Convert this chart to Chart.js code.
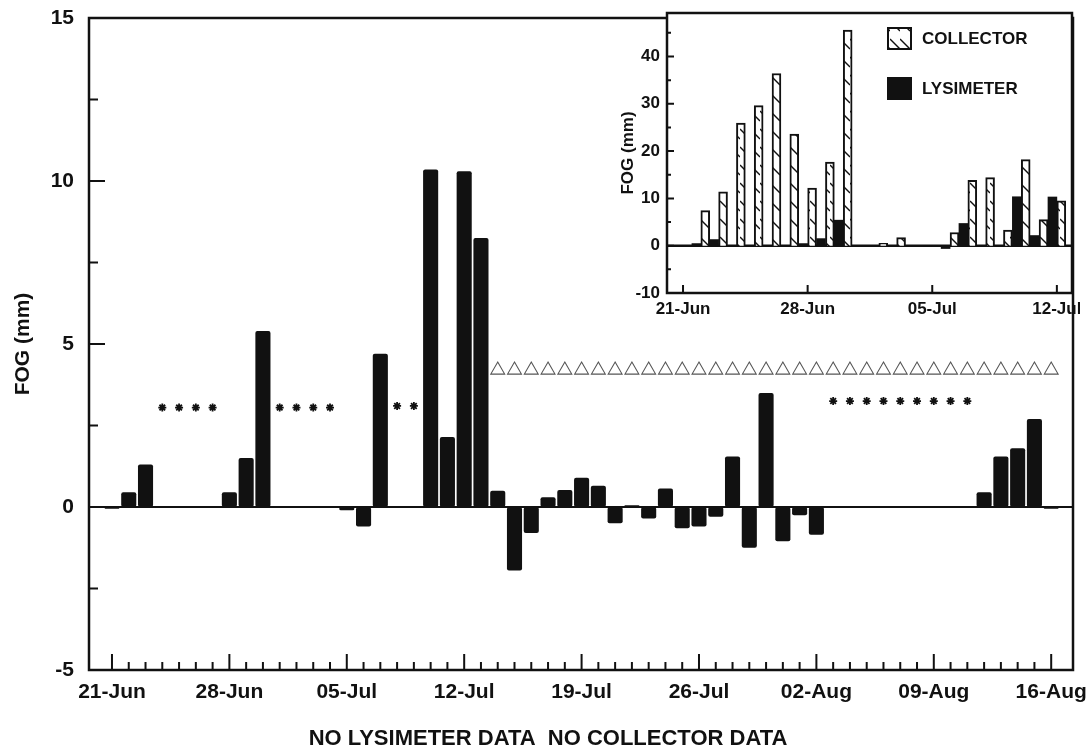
<!DOCTYPE html>
<html>
<head>
<meta charset="utf-8">
<title>Fog deposition</title>
<script src="https://cdn.jsdelivr.net/npm/chart.js@4.4.1/dist/chart.umd.min.js"></script>
<style>
    html, body { margin: 0; padding: 0; background: #fff; }
    #wrap { position: relative; width: 1090px; height: 751px; overflow: hidden; }
    #mainBox { position: absolute; left: 0; top: 0; }
    #insetBox { position: absolute; left: 600px; top: 0; }
</style>
</head>
<body>
<div id="wrap">
    <div id="mainBox"><canvas id="mainChart" width="1090" height="751"></canvas></div>
    <div id="insetBox"><canvas id="insetChart" width="480" height="330"></canvas></div>
</div>
<script>
// ---- data ----
const dayLabels = [
    "21-Jun", "22-Jun", "23-Jun", "24-Jun", "25-Jun", "26-Jun", "27-Jun",
    "28-Jun", "29-Jun", "30-Jun", "01-Jul", "02-Jul", "03-Jul", "04-Jul",
    "05-Jul", "06-Jul", "07-Jul", "08-Jul", "09-Jul", "10-Jul", "11-Jul",
    "12-Jul", "13-Jul", "14-Jul", "15-Jul", "16-Jul", "17-Jul", "18-Jul",
    "19-Jul", "20-Jul", "21-Jul", "22-Jul", "23-Jul", "24-Jul", "25-Jul",
    "26-Jul", "27-Jul", "28-Jul", "29-Jul", "30-Jul", "31-Jul", "01-Aug",
    "02-Aug", "03-Aug", "04-Aug", "05-Aug", "06-Aug", "07-Aug", "08-Aug",
    "09-Aug", "10-Aug", "11-Aug", "12-Aug", "13-Aug", "14-Aug", "15-Aug",
    "16-Aug"
];

// weekly tick labels on the main axis
const weekLabels = ["21-Jun", "28-Jun", "05-Jul", "12-Jul", "19-Jul", "26-Jul", "02-Aug", "09-Aug", "16-Aug"];
// inset only covers the first weeks
const insetWeekLabels = ["21-Jun", "28-Jun", "05-Jul", "12-Jul"];

const yTickValues = [-5, 0, 5, 10, 15];
const insetYTickValues = [-10, 0, 10, 20, 30, 40];

// lysimeter fog (mm), one per day, null = no lysimeter data
const lysimeter = [
    -0.05, 0.45, 1.3, null, null, null, null,
    0.45, 1.5, 5.4, null, null, null, null,
    -0.1, -0.6, 4.7, null, null, 10.35, 2.15,
    10.3, 8.25, 0.5, -1.95, -0.8, 0.3, 0.52,
    0.9, 0.65, -0.5, 0.05, -0.35, 0.57, -0.65,
    -0.6, -0.3, 1.55, -1.25, 3.5, -1.05, -0.25,
    -0.85, null, null, null, null, null, null,
    null, null, null, 0.45, 1.55, 1.8, 2.7,
    -0.05
];

// collector fog (mm) for the inset, 21-Jun to 12-Jul
const collector = [
    null, 7.4, 11.4, 25.9, 29.6, 36.4, 23.6,
    12.2, 17.7, 45.6, null, 0.5, 1.7, null,
    null, 2.8, 13.8, 14.4, 3.3, 18.2, 5.5,
    9.5
];

// "no lysimeter data" markers
const noLysimeterDays = [
    "24-Jun", "25-Jun", "26-Jun", "27-Jun",
    "01-Jul", "02-Jul", "03-Jul", "04-Jul",
    "08-Jul", "09-Jul",
    "03-Aug", "04-Aug", "05-Aug", "06-Aug", "07-Aug", "08-Aug", "09-Aug", "10-Aug", "11-Aug"
];
const noLysimeterLevel = [
    3.05, 3.05, 3.05, 3.05,
    3.05, 3.05, 3.05, 3.05,
    3.1, 3.1,
    3.25, 3.25, 3.25, 3.25, 3.25, 3.25, 3.25, 3.25, 3.25
];

// "no collector data" markers
const noCollectorDays = [
    "14-Jul", "15-Jul", "16-Jul", "17-Jul", "18-Jul", "19-Jul", "20-Jul",
    "21-Jul", "22-Jul", "23-Jul", "24-Jul", "25-Jul", "26-Jul", "27-Jul",
    "28-Jul", "29-Jul", "30-Jul", "31-Jul", "01-Aug", "02-Aug", "03-Aug",
    "04-Aug", "05-Aug", "06-Aug", "07-Aug", "08-Aug", "09-Aug", "10-Aug",
    "11-Aug", "12-Aug", "13-Aug", "14-Aug", "15-Aug", "16-Aug"
];
const noCollectorLevel = 4.2;

const FONT = "'Liberation Sans', Arial, Helvetica, sans-serif";
const INK = "#111";

// hatch fill for collector bars
function makeHatch() {
    const tile = document.createElement("canvas");
    tile.width = 10;
    tile.height = 18;
    const g = tile.getContext("2d");
    g.fillStyle = "#fff";
    g.fillRect(0, 0, 10, 18);
    g.strokeStyle = INK;
    g.lineWidth = 1.4;
    g.beginPath();
    g.moveTo(0, 3);
    g.lineTo(10, 13);
    g.stroke();
    return g.createPattern(tile, "repeat");
}
const hatch = makeHatch();

const dayIndex = label => dayLabels.indexOf(label);

// keep the plot box where the layout padding puts it
function fixVertical(width) {
    return s => { s.width = width; s.paddingTop = 0; s.paddingBottom = 0; };
}
function fixHorizontal(height) {
    return s => { s.height = height; s.paddingLeft = 0; s.paddingRight = 0; };
}

// ---- main chart decorations: frame, zero line, inward ticks, footnote ----
const mainFrame = {
    id: "mainFrame",
    beforeDatasetsDraw(chart) {
        const { ctx, chartArea: a, scales: { y } } = chart;
        const y0 = y.getPixelForValue(0);
        ctx.save();
        ctx.strokeStyle = INK;
        ctx.lineWidth = 2;
        ctx.beginPath();
        ctx.moveTo(a.left, y0);
        ctx.lineTo(a.right, y0);
        ctx.stroke();
        ctx.restore();
    },
    afterDraw(chart) {
        const { ctx, chartArea: a, scales: { x, y } } = chart;
        ctx.save();
        ctx.strokeStyle = INK;
        ctx.lineWidth = 2.5;
        ctx.strokeRect(a.left, a.top, a.right - a.left, a.bottom - a.top);

        ctx.lineWidth = 2;
        ctx.beginPath();
        for (let v = y.min; v <= y.max; v += 2.5) {
            const py = y.getPixelForValue(v);
            const len = v % 5 === 0 ? 16 : 9;
            ctx.moveTo(a.left, py);
            ctx.lineTo(a.left + len, py);
        }
        for (let d = 0; d < dayLabels.length; d++) {
            const px = x.getPixelForValue(d);
            const len = weekLabels.includes(dayLabels[d]) ? 16 : 8;
            ctx.moveTo(px, a.bottom);
            ctx.lineTo(px, a.bottom - len);
        }
        ctx.stroke();

        ctx.fillStyle = INK;
        ctx.font = "bold 22px " + FONT;
        ctx.textAlign = "center";
        ctx.textBaseline = "middle";
        ctx.fillText("NO LYSIMETER DATA  NO COLLECTOR DATA", 548, 739);
        ctx.restore();
    }
};

// ---- inset decorations: white panel, frame, zero line, ticks, legend ----
const insetFrame = {
    id: "insetFrame",
    beforeDraw(chart) {
        const { ctx, chartArea: a } = chart;
        ctx.save();
        ctx.fillStyle = "#fff";
        ctx.fillRect(a.left, a.top, a.right - a.left, a.bottom - a.top);
        ctx.restore();
    },
    beforeDatasetsDraw(chart) {
        const { ctx, chartArea: a, scales: { y } } = chart;
        const y0 = y.getPixelForValue(0);
        ctx.save();
        ctx.strokeStyle = INK;
        ctx.lineWidth = 2.5;
        ctx.beginPath();
        ctx.moveTo(a.left, y0);
        ctx.lineTo(a.right, y0);
        ctx.stroke();
        ctx.restore();
    },
    afterDraw(chart) {
        const { ctx, chartArea: a, scales: { x, y } } = chart;
        ctx.save();
        ctx.strokeStyle = INK;
        ctx.lineWidth = 2.5;
        ctx.strokeRect(a.left, a.top, a.right - a.left, a.bottom - a.top);

        ctx.lineWidth = 2;
        ctx.beginPath();
        for (let v = -10; v <= 45; v += 5) {
            const py = y.getPixelForValue(v);
            const len = v % 10 === 0 ? 7 : 4;
            ctx.moveTo(a.left, py);
            ctx.lineTo(a.left + len, py);
        }
        insetWeekLabels.forEach(l => {
            const px = x.getPixelForValue(dayIndex(l));
            ctx.moveTo(px, a.bottom);
            ctx.lineTo(px, a.bottom - 8);
        });
        ctx.stroke();

        // legend, collector on top
        const items = [chart.data.datasets[1], chart.data.datasets[0]];
        const bx = a.right - 185;
        ctx.font = "bold 17px " + FONT;
        ctx.textAlign = "left";
        ctx.textBaseline = "middle";
        items.forEach((ds, i) => {
            const by = a.top + 14 + i * 50;
            ctx.fillStyle = ds.backgroundColor;
            ctx.fillRect(bx, by, 25, 23);
            if (ds.borderWidth) {
                ctx.lineWidth = 2;
                ctx.strokeStyle = INK;
                ctx.strokeRect(bx + 1, by + 1, 23, 21);
            }
            ctx.fillStyle = INK;
            ctx.fillText(ds.label, bx + 35, by + 12);
        });
        ctx.restore();
    }
};

// ---- main chart ----
new Chart(document.getElementById("mainChart"), {
    type: "bar",
    data: {
        datasets: [
            {
                label: "LYSIMETER",
                data: lysimeter.map((v, i) => ({ x: i, y: v })),
                backgroundColor: INK,
                borderRadius: 2,
                borderSkipped: false,
                categoryPercentage: 1,
                barPercentage: 0.9
            },
            {
                type: "scatter",
                label: "NO LYSIMETER DATA",
                data: noLysimeterDays.map((d, i) => ({ x: dayIndex(d), y: noLysimeterLevel[i] })),
                pointStyle: "star",
                radius: 4,
                borderWidth: 1.8,
                borderColor: INK,
                backgroundColor: INK
            },
            {
                type: "scatter",
                label: "NO COLLECTOR DATA",
                data: noCollectorDays.map(d => ({ x: dayIndex(d), y: noCollectorLevel })),
                pointStyle: "triangle",
                radius: 8,
                borderWidth: 1.1,
                borderColor: "#555",
                backgroundColor: "rgba(0,0,0,0)"
            }
        ]
    },
    plugins: [mainFrame],
    options: {
        responsive: false,
        animation: false,
        layout: { padding: { top: 18, right: 17, left: 0, bottom: 0 } },
        plugins: {
            legend: { display: false },
            tooltip: { enabled: false }
        },
        scales: {
            x: {
                type: "linear",
                min: -1.37,
                max: 57.3,
                offset: false,
                grid: { display: false, drawTicks: false },
                border: { display: false },
                afterBuildTicks: s => { s.ticks = weekLabels.map(l => ({ value: dayIndex(l) })); },
                afterFit: fixHorizontal(81),
                ticks: {
                    callback: v => dayLabels[v],
                    color: INK,
                    font: { family: FONT, size: 21, weight: "bold" },
                    padding: 10,
                    maxRotation: 0,
                    autoSkip: false
                }
            },
            y: {
                min: -5,
                max: 15,
                grid: { display: false, drawTicks: false },
                border: { display: false },
                afterBuildTicks: s => { s.ticks = yTickValues.map(v => ({ value: v })); },
                afterFit: fixVertical(89),
                ticks: {
                    color: INK,
                    font: { family: FONT, size: 21, weight: "bold" },
                    padding: 15
                },
                title: {
                    display: true,
                    text: "FOG (mm)",
                    color: INK,
                    font: { family: FONT, size: 21, weight: "bold" },
                    padding: { top: 11, bottom: 0 }
                }
            }
        }
    }
});

// ---- inset chart ----
new Chart(document.getElementById("insetChart"), {
    type: "bar",
    data: {
        datasets: [
            {
                label: "LYSIMETER",
                data: collector.map((c, i) => ({ x: i, y: lysimeter[i] })),
                backgroundColor: INK,
                borderWidth: 0,
                categoryPercentage: 1,
                barPercentage: 1
            },
            {
                label: "COLLECTOR",
                data: collector.map((v, i) => ({ x: i, y: v })),
                backgroundColor: hatch,
                borderColor: INK,
                borderWidth: 2,
                categoryPercentage: 1,
                barPercentage: 1
            }
        ]
    },
    plugins: [insetFrame],
    options: {
        responsive: false,
        animation: false,
        layout: { padding: { top: 13, right: 8, left: 0, bottom: 0 } },
        plugins: {
            legend: { display: false },
            tooltip: { enabled: false }
        },
        scales: {
            x: {
                type: "linear",
                min: -0.9,
                max: 21.85,
                offset: false,
                grid: { display: false, drawTicks: false },
                border: { display: false },
                afterBuildTicks: s => { s.ticks = insetWeekLabels.map(l => ({ value: dayIndex(l) })); },
                afterFit: fixHorizontal(37),
                ticks: {
                    callback: v => dayLabels[v],
                    color: INK,
                    font: { family: FONT, size: 17, weight: "bold" },
                    padding: 6,
                    maxRotation: 0,
                    autoSkip: false
                }
            },
            y: {
                min: -10,
                max: 49.2,
                grid: { display: false, drawTicks: false },
                border: { display: false },
                afterBuildTicks: s => { s.ticks = insetYTickValues.map(v => ({ value: v })); },
                afterFit: fixVertical(67),
                ticks: {
                    color: INK,
                    font: { family: FONT, size: 17, weight: "bold" },
                    padding: 7
                },
                title: {
                    display: true,
                    text: "FOG (mm)",
                    color: INK,
                    font: { family: FONT, size: 17, weight: "bold" },
                    padding: { top: 18, bottom: 0 }
                }
            }
        }
    }
});
</script>
</body>
</html>
